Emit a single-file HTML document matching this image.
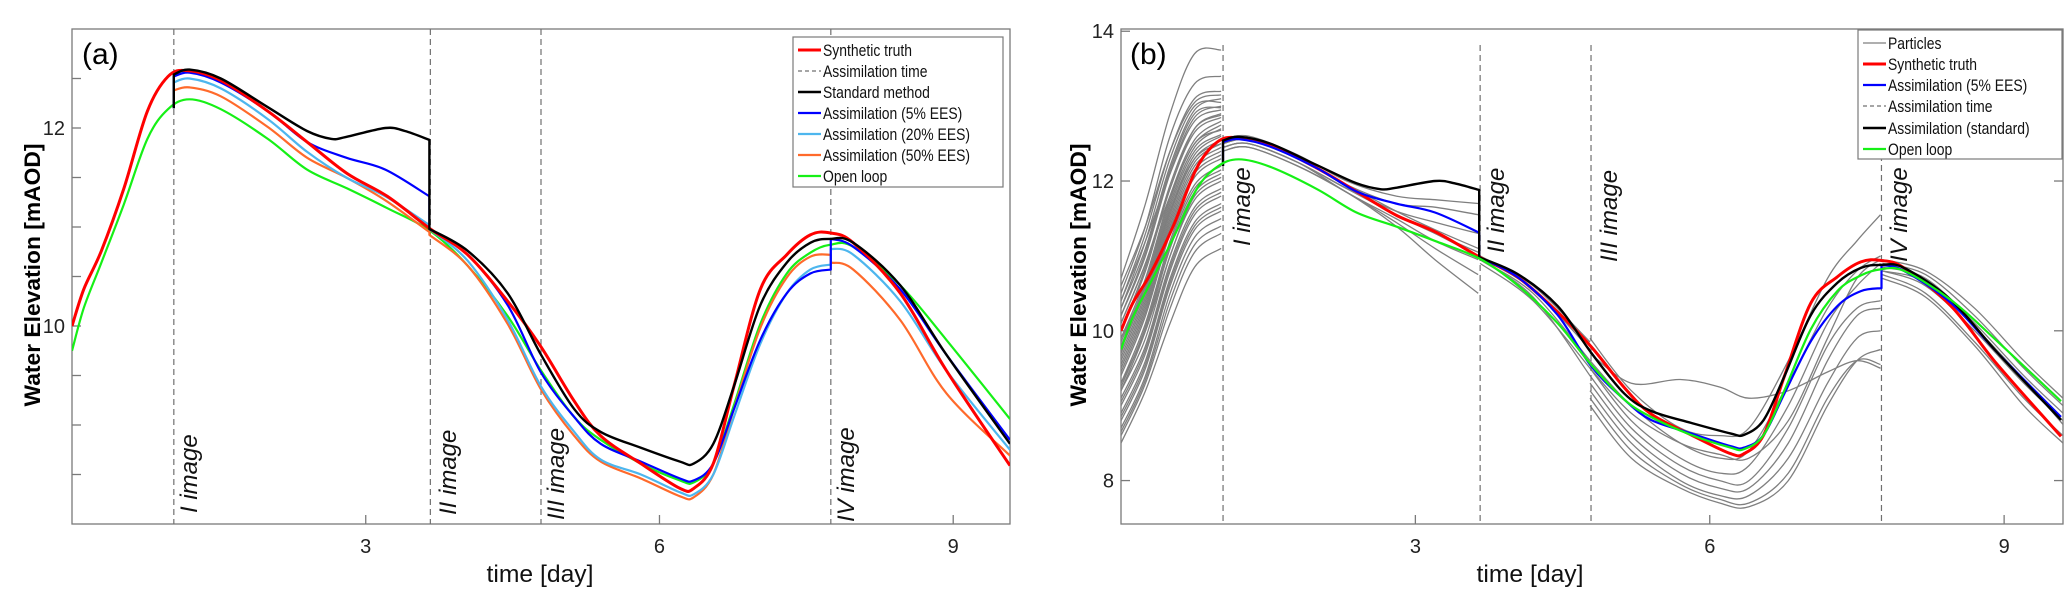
<!DOCTYPE html>
<html><head><meta charset="utf-8"><style>
html,body{margin:0;padding:0;background:#fff;}
svg{display:block;font-family:"Liberation Sans",sans-serif;}
</style></head><body>
<svg id="fig" width="2067" height="598" viewBox="0 0 2067 598">
<defs>
<clipPath id="clipA"><rect x="72" y="29" width="938" height="495"/></clipPath>
<clipPath id="clipB"><rect x="1121" y="29" width="942" height="495"/></clipPath>
</defs>
<g id="panelA"></g>
<g id="panelB"></g>
</svg>
<script>
// ---- shared data ----
const truthDays=[0,0.12,0.3,0.53,0.77,0.98,1.18,1.52,2.0,2.4,2.81,3.22,3.66,4.04,4.45,4.79,5.13,5.4,5.81,6.21,6.35,6.55,6.76,7.03,7.3,7.54,7.74,7.98,8.46,8.93,9.58];
const truthVals=[10.0,10.37,10.76,11.39,12.17,12.52,12.58,12.48,12.17,11.86,11.54,11.31,10.98,10.72,10.25,9.79,9.24,8.89,8.61,8.36,8.36,8.61,9.39,10.37,10.72,10.92,10.94,10.84,10.33,9.55,8.59];
const openDays=[0,0.12,0.3,0.53,0.77,0.98,1.2,1.52,2.0,2.4,2.81,3.22,3.66,4.04,4.45,4.79,5.13,5.4,5.81,6.21,6.35,6.55,6.76,7.03,7.3,7.54,7.74,7.98,8.46,8.93,9.58];
const openVals=[9.75,10.18,10.64,11.23,11.89,12.19,12.29,12.19,11.89,11.58,11.39,11.19,10.96,10.61,10.1,9.55,9.08,8.85,8.61,8.44,8.42,8.61,9.2,10.02,10.53,10.74,10.82,10.8,10.41,9.86,9.06];
const stdDays=[1.04,1.04,1.2,1.52,2.0,2.4,2.65,2.8,3.2,3.4,3.65,3.65,4.04,4.45,4.79,5.13,5.4,5.81,6.21,6.35,6.55,6.76,7.03,7.3,7.54,7.74,7.98,8.46,8.93,9.58];
const stdVals=[12.2,12.54,12.59,12.5,12.21,11.97,11.89,11.91,12.0,11.97,11.88,10.98,10.76,10.33,9.71,9.16,8.93,8.77,8.63,8.61,8.81,9.39,10.21,10.64,10.84,10.88,10.84,10.41,9.71,8.81];
const eesDays=[1.04,1.04,1.2,1.52,2.0,2.4,2.8,3.2,3.65,3.65,4.04,4.45,4.79,5.13,5.4,5.81,6.21,6.35,6.55,6.76,7.03,7.3,7.54,7.75,7.75,7.98,8.46,8.93,9.58];
const ees5Vals=[12.2,12.52,12.56,12.46,12.17,11.86,11.7,11.58,11.31,10.98,10.72,10.21,9.53,9.08,8.81,8.63,8.46,8.44,8.61,9.16,9.86,10.33,10.53,10.57,10.88,10.8,10.37,9.71,8.85];
const ees20Vals=[12.2,12.46,12.5,12.4,12.09,11.76,11.5,11.31,11.02,10.98,10.66,10.06,9.39,8.93,8.65,8.5,8.32,8.3,8.5,9.08,9.82,10.33,10.57,10.62,10.78,10.72,10.25,9.55,8.75];
const ees50Vals=[12.2,12.38,12.41,12.32,12.01,11.7,11.5,11.27,10.95,10.92,10.61,10.02,9.36,8.89,8.63,8.46,8.28,8.27,8.5,9.16,9.98,10.49,10.7,10.72,10.64,10.57,10.06,9.32,8.69];
const assimTimes=[1.04,3.66,4.79,7.75];
const assimLabels=["I image","II image","III image","IV image"];
const xTicks=[3,6,9];
const yTicksA=[8.5,9,9.5,10,10.5,11,11.5,12,12.5];
const yLabelsA=[10,12];
const yTicksB=[8,10,12,14];
// particles
const p0Days=[0,0.25,0.5,0.75,1.02];
const p0Vals=[
[10.7,11.7,12.9,13.7,13.75],[10.5,11.4,12.6,13.3,13.4],[10.4,11.3,12.4,13.1,13.2],[10.6,11.4,12.4,13.05,13.15],
[10.3,11.1,12.2,12.95,13.1],[10.2,11.0,12.1,12.85,13.0],[10.4,11.2,12.1,12.8,12.95],[10.1,10.9,11.9,12.7,12.9],
[10.0,10.8,11.9,12.65,12.85],[9.9,10.7,11.8,12.55,12.8],[9.8,10.6,11.7,12.45,12.7],[9.7,10.5,11.6,12.35,12.6],
[9.6,10.4,11.5,12.25,12.5],[9.5,10.3,11.4,12.15,12.4],[9.4,10.2,11.3,12.05,12.3],[9.3,10.1,11.2,11.95,12.2],
[9.2,10.0,11.1,11.85,12.1],[9.2,9.9,11.0,11.75,12.0],[9.1,9.8,10.9,11.65,11.9],[9.0,9.7,10.8,11.55,11.8],
[8.9,9.6,10.7,11.45,11.7],[8.8,9.5,10.6,11.35,11.6],[8.7,9.4,10.5,11.25,11.5],[8.6,9.3,10.3,11.05,11.3],
[8.5,9.2,10.1,10.85,11.1],[9.9,10.6,11.6,12.3,12.5],[10.1,10.9,11.8,12.5,12.75],[9.3,10.0,11.0,11.8,12.05],
[10.3,11.2,12.3,13.0,13.05],[10.0,10.85,11.95,12.7,12.88],[9.85,10.65,11.75,12.5,12.68],[9.65,10.45,11.55,12.3,12.55],
[9.45,10.25,11.35,12.1,12.35],[9.25,10.05,11.15,11.9,12.15],[9.05,9.75,10.85,11.6,11.85],[8.85,9.55,10.65,11.4,11.65],
[8.65,9.35,10.4,11.15,11.4],[9.55,10.35,11.45,12.2,12.45],[9.75,10.55,11.65,12.4,12.62],[10.2,11.05,12.15,12.9,12.98]];
const p1Days=[1.04,1.3,1.8,2.3,2.8,3.2,3.64];
const p1Vals=[
[12.55,12.6,12.35,12.0,11.8,11.75,11.7],[12.5,12.55,12.3,11.95,11.7,11.65,11.55],[12.45,12.5,12.25,11.9,11.6,11.45,11.3],
[12.5,12.55,12.3,11.95,11.6,11.35,11.1],[12.45,12.5,12.25,11.85,11.5,11.2,10.95],[12.4,12.45,12.2,11.85,11.45,11.1,10.75],
[12.4,12.45,12.2,11.85,11.4,10.95,10.5],[12.5,12.55,12.3,11.95,11.55,11.3,11.0],[12.45,12.5,12.25,11.9,11.55,11.3,11.05]];
const p2Days=[3.66,4.2,4.78];
const p2Vals=[[10.98,10.55,9.75],[10.95,10.5,9.6],[11.0,10.6,9.85],[10.9,10.4,9.5],[10.95,10.45,9.4]];
const p3Days=[4.78,5.2,5.7,6.1,6.4,6.8,7.2,7.5,7.74];
const p3Vals=[
[9.7,9.3,9.35,9.25,9.1,9.2,9.45,9.6,9.5],[9.9,9.2,8.7,8.6,8.7,9.6,10.7,11.2,11.55],[9.6,9.0,8.5,8.3,8.4,9.3,10.3,10.8,11.0],
[9.5,8.8,8.3,8.1,8.2,9.0,10.1,10.6,10.9],[9.4,8.7,8.2,8.0,8.0,8.7,9.8,10.3,10.4],[9.3,8.6,8.1,7.9,7.9,8.5,9.6,10.2,10.3],
[9.2,8.5,8.0,7.8,7.8,8.3,9.3,9.9,10.0],[9.0,8.3,7.9,7.7,7.65,8.0,9.0,9.6,9.75],[9.1,8.4,7.95,7.75,7.7,8.1,9.1,9.6,9.55],
[9.5,8.9,8.5,8.35,8.3,8.8,9.9,10.7,10.95]];
const p4Days=[7.76,8.2,8.7,9.2,9.6];
const p4Vals=[[10.9,10.75,10.2,9.5,9.0],[10.85,10.7,10.1,9.4,8.9],[10.8,10.6,10.0,9.3,8.8],[10.75,10.5,9.85,9.1,8.6],
[10.7,10.45,9.8,9.0,8.5],[10.95,10.8,10.3,9.6,9.1],[10.8,10.65,10.05,9.35,8.75]];

const NS="http://www.w3.org/2000/svg";
function mk(tag,attrs,parent){const e=document.createElementNS(NS,tag);for(const k in attrs)e.setAttribute(k,attrs[k]);parent.appendChild(e);return e;}
function makeScale(d0,d1,r0,r1){return v=>r0+(v-d0)/(d1-d0)*(r1-r0);}
function smoothPath(days,vals,xs,ys){
  let runs=[],cur=[];
  for(let i=0;i<days.length;i++){
    if(i>0&&days[i]===days[i-1]){runs.push(cur);cur=[];}
    cur.push([xs(days[i]),ys(vals[i])]);
  }
  runs.push(cur);
  let d="";
  runs.forEach((r,ri)=>{
    d+=(ri===0?"M":"L")+r[0][0].toFixed(1)+","+r[0][1].toFixed(1);
    for(let i=0;i<r.length-1;i++){
      const p0=r[Math.max(0,i-1)],p1=r[i],p2=r[i+1],p3=r[Math.min(r.length-1,i+2)];
      const c1=[p1[0]+(p2[0]-p0[0])/6,p1[1]+(p2[1]-p0[1])/6];
      const c2=[p2[0]-(p3[0]-p1[0])/6,p2[1]-(p3[1]-p1[1])/6];
      d+="C"+c1[0].toFixed(1)+","+c1[1].toFixed(1)+" "+c2[0].toFixed(1)+","+c2[1].toFixed(1)+" "+p2[0].toFixed(1)+","+p2[1].toFixed(1);
    }
  });
  return d;
}
function series(g,days,vals,xs,ys,color,w,name){
  const p=mk("path",{d:smoothPath(days,vals,xs,ys),fill:"none",stroke:color,"stroke-width":w,"stroke-linejoin":"round"},g);
  
  
  return p;
}
const COL={red:"#ff0000",blue:"#0000ff",lb:"#4db6ee",or:"#ff6a2b",gr:"#16f016",bk:"#000000",gray:"#7f7f7f"};

function drawAxes(g,L,R,T,B,xs,ys,yTicks,yLabels,rightTicks){
  const pa=mk("rect",{x:L,y:T,width:R-L,height:B-T,fill:"#fff",stroke:"#7a7a7a","stroke-width":1.3},g);
  
  
  xTicks.forEach(t=>{
    const x=xs(t);
    const tk=mk("line",{x1:x,x2:x,y1:B,y2:B-9,stroke:"#7a7a7a","stroke-width":1.3},g);
    
    
    const tl=mk("text",{x:x,y:553,"font-size":20,"text-anchor":"middle",fill:"#222"},g);
    tl.textContent=t;
    
    
  });
  yTicks.forEach(t=>{
    const y=ys(t);
    const tk=mk("line",{x1:L,x2:L+9,y1:y,y2:y,stroke:"#7a7a7a","stroke-width":1.3},g);
    
    
    if(rightTicks){
      const tr=mk("line",{x1:R,x2:R-9,y1:y,y2:y,stroke:"#7a7a7a","stroke-width":1.3},g);
      
      
    }
  });
  yLabels.forEach(t=>{
    const tl=mk("text",{x:L-7,y:ys(t)+7,"font-size":20,"text-anchor":"end",fill:"#222"},g);
    tl.textContent=t;
    
    
  });
}
function legend(g,x,y,w,h,items,rowY){
  const lg=mk("g",{},g);
  
  
  mk("rect",{x:x,y:y,width:w,height:h,fill:"#fff",stroke:"#7a7a7a","stroke-width":1.2},lg);
  items.forEach((it,i)=>{
    const cy=rowY[i];
    const e=mk("g",{},lg);
    
    
    const ln=mk("line",{x1:x+5,x2:x+28,y1:cy,y2:cy,stroke:it[1],"stroke-width":it[2]},e);
    if(it[3])ln.setAttribute("stroke-dasharray","4,3");
    const t=mk("text",{transform:"translate("+(x+30)+","+(cy+6)+") scale(0.82,1)","font-size":17,fill:"#111"},e);
    t.textContent=it[0];
  });
}
function assimLines(g,xs,top,B){
  assimTimes.forEach((t)=>{
    const x=xs(t);
    const l=mk("line",{x1:x,x2:x,y1:top,y2:B,stroke:"#707070","stroke-width":1.2,"stroke-dasharray":"6,4"},g);
    
    
  });
}
function assimText(g,labX,labY){
  assimTimes.forEach((t,i)=>{
    const tx=mk("text",{transform:"translate("+labX[i]+","+labY[i]+") rotate(-90)","font-size":24,"font-style":"italic",fill:"#111"},g);
    tx.textContent=assimLabels[i];
    
    
  });
}
function titles(g,ycx,xcx,tag,tagx){
  const yl=mk("text",{transform:"translate("+ycx+",275) rotate(-90)","font-size":22,"font-weight":"bold","text-anchor":"middle",textLength:263,lengthAdjust:"spacingAndGlyphs",fill:"#000"},g);
  yl.textContent="Water Elevation [mAOD]";
  
  
  const xl=mk("text",{x:xcx,y:582,"font-size":24,"text-anchor":"middle",textLength:107,lengthAdjust:"spacingAndGlyphs",fill:"#111"},g);
  xl.textContent="time [day]";
  
  
  const pt=mk("text",{x:tagx,y:64,"font-size":30,fill:"#000"},g);
  pt.textContent=tag;
  
  
}

// ---- Panel A ----
(function(){
  const g=document.getElementById("panelA");
  const L=72,R=1010,T=29,B=524;
  const xs=makeScale(0,9.58,L,R), ys=makeScale(8,13,B,T);
  drawAxes(g,L,R,T,B,xs,ys,yTicksA,yLabelsA,false);
  assimLines(g,xs,T,B);
  const c=mk("g",{"clip-path":"url(#clipA)"},g);
  
  
  series(c,openDays,openVals,xs,ys,COL.gr,2.2,'open-loop-line');
  series(c,eesDays,ees50Vals,xs,ys,COL.or,2.2,'assim-50-line');
  series(c,eesDays,ees20Vals,xs,ys,COL.lb,2.2,'assim-20-line');
  series(c,eesDays,ees5Vals,xs,ys,COL.blue,2.2,'assim-5-line');
  series(c,truthDays,truthVals,xs,ys,COL.red,3,'synthetic-truth-line');
  series(c,stdDays,stdVals,xs,ys,COL.bk,2.4,'standard-method-line');
  assimText(g,[197,456,564,854],[513,515,520,522]);
  legend(g,793,37,210,150,[["Synthetic truth",COL.red,3],["Assimilation time","#707070",1.2,true],["Standard method",COL.bk,2.4],["Assimilation (5% EES)",COL.blue,2.2],["Assimilation (20% EES)",COL.lb,2.2],["Assimilation (50% EES)",COL.or,2.2],["Open loop",COL.gr,2.2]],[50,71,92,113,134,155,176]);
  titles(g,40,540,"(a)",82);
})();

// ---- Panel B ----
(function(){
  const g=document.getElementById("panelB");
  const L=1121,R=2063,T=29,B=524;
  const xs=makeScale(0,9.6,L,R), ys=makeScale(7.42,14.03,B,T);
  drawAxes(g,L,R,T,B,xs,ys,yTicksB,yTicksB,true);
  const c=mk("g",{"clip-path":"url(#clipB)"},g);
  
  
  [[p0Days,p0Vals],[p1Days,p1Vals],[p2Days,p2Vals],[p3Days,p3Vals],[p4Days,p4Vals]].forEach(s=>{
    s[1].forEach(v=>{series(c,s[0],v,xs,ys,COL.gray,1.3,'particle-line');});
  });
  assimLines(g,xs,45,B);
  const c2=mk("g",{"clip-path":"url(#clipB)"},g);
  
  
  series(c2,truthDays,truthVals,xs,ys,COL.red,3,'synthetic-truth-line');
  series(c2,eesDays,ees5Vals,xs,ys,COL.blue,2.2,'assim-5-line');
  series(c2,stdDays,stdVals,xs,ys,COL.bk,2.4,'standard-line');
  series(c2,openDays,openVals,xs,ys,COL.gr,2.2,'open-loop-line');
  assimText(g,[1250,1504,1617,1907],[246,253,262,262]);
  legend(g,1858,30,204,129,[["Particles",COL.gray,1.3],["Synthetic truth",COL.red,3],["Assimilation (5% EES)",COL.blue,2.2],["Assimilation time","#707070",1.2,true],["Assimilation (standard)",COL.bk,2.4],["Open loop",COL.gr,2.2]],[43,64,85,106,128,149]);
  titles(g,1086,1530,"(b)",1130);
})();
</script>
</body></html>
